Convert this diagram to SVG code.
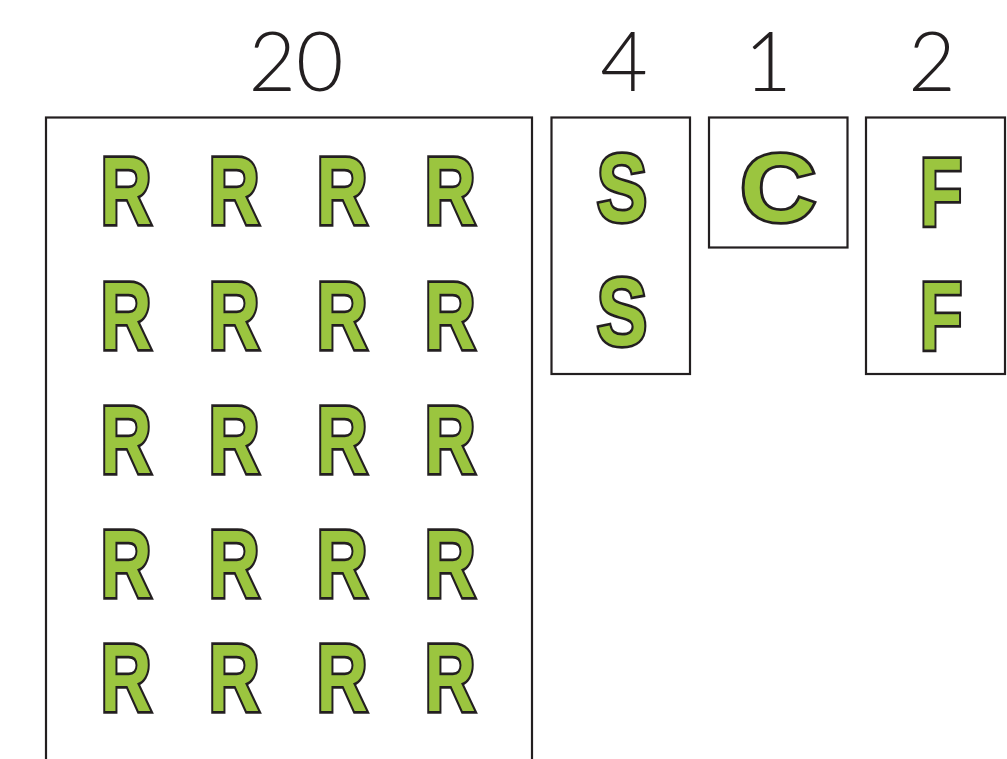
<svg xmlns="http://www.w3.org/2000/svg" width="1007" height="759" viewBox="0 0 1007 759">
<style>
.box{fill:none;stroke:#231F20;stroke-width:2.2}
.num{font-family:Lato,"Liberation Sans",sans-serif;font-weight:300;font-size:82px;fill:#231F20;text-anchor:middle}
.let{font-family:"Liberation Sans",Arial,sans-serif;font-weight:bold;font-size:97px;fill:#9BC53F;stroke:#231F20;stroke-width:5.5;stroke-linejoin:miter;paint-order:stroke fill;text-anchor:middle}
</style>
<rect width="1007" height="759" fill="#fff"/>
<g id="group-R">
<text class="num" x="296" y="91">20</text>
<rect class="box" x="46" y="117.5" width="486" height="700"/>
<g id="r-letters">
<text class="let" transform="translate(126,224) scale(0.73,1)">R</text>
<text class="let" transform="translate(234,224) scale(0.73,1)">R</text>
<text class="let" transform="translate(342,224) scale(0.73,1)">R</text>
<text class="let" transform="translate(450,224) scale(0.73,1)">R</text>
<text class="let" transform="translate(126,349) scale(0.73,1)">R</text>
<text class="let" transform="translate(234,349) scale(0.73,1)">R</text>
<text class="let" transform="translate(342,349) scale(0.73,1)">R</text>
<text class="let" transform="translate(450,349) scale(0.73,1)">R</text>
<text class="let" transform="translate(126,473) scale(0.73,1)">R</text>
<text class="let" transform="translate(234,473) scale(0.73,1)">R</text>
<text class="let" transform="translate(342,473) scale(0.73,1)">R</text>
<text class="let" transform="translate(450,473) scale(0.73,1)">R</text>
<text class="let" transform="translate(126,597) scale(0.73,1)">R</text>
<text class="let" transform="translate(234,597) scale(0.73,1)">R</text>
<text class="let" transform="translate(342,597) scale(0.73,1)">R</text>
<text class="let" transform="translate(450,597) scale(0.73,1)">R</text>
<text class="let" transform="translate(126,711) scale(0.73,1)">R</text>
<text class="let" transform="translate(234,711) scale(0.73,1)">R</text>
<text class="let" transform="translate(342,711) scale(0.73,1)">R</text>
<text class="let" transform="translate(450,711) scale(0.73,1)">R</text>
</g>
</g>
<g id="group-S">
<text class="num" x="624" y="91">4</text>
<rect class="box" x="551.5" y="117.5" width="138.5" height="256.5"/>
<text class="let" transform="translate(622,221) scale(0.78,1)">S</text>
<text class="let" transform="translate(622,345) scale(0.78,1)">S</text>
</g>
<g id="group-C">
<text class="num" x="768" y="91">1</text>
<rect class="box" x="709" y="117.5" width="138.5" height="130"/>
<text class="let" transform="translate(778,221) scale(1.08,1)">C</text>
</g>
<g id="group-F">
<text class="num" x="932" y="91">2</text>
<rect class="box" x="866" y="117.5" width="139" height="256.5"/>
<text class="let" transform="translate(941,225) scale(0.72,1)">F</text>
<text class="let" transform="translate(941,349) scale(0.72,1)">F</text>
</g>
</svg>
